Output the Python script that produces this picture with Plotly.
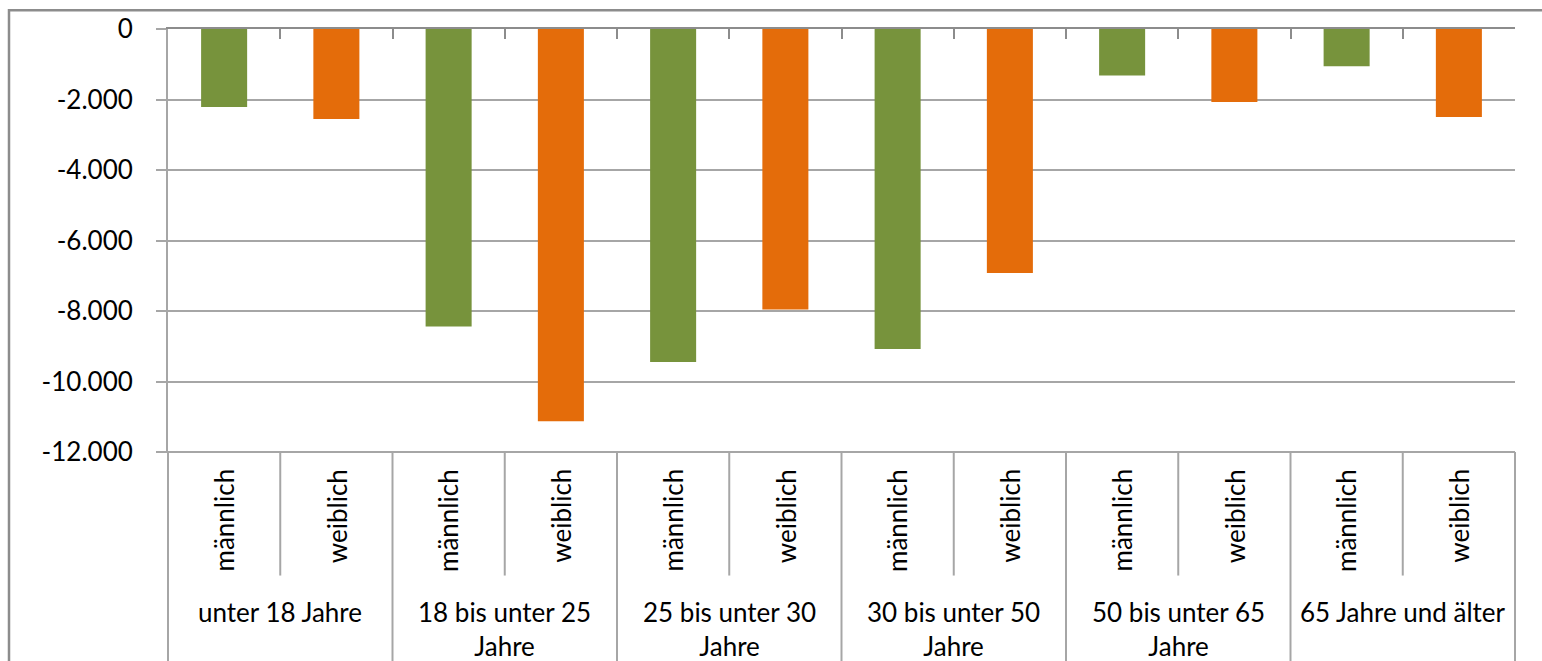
import plotly.graph_objects as go

# ---- data ----
groups = ["unter 18 Jahre", "18 bis unter 25<br>Jahre", "25 bis unter 30<br>Jahre",
          "30 bis unter 50<br>Jahre", "50 bis unter 65<br>Jahre", "65 Jahre und älter"]
sexes = ["männlich", "weiblich"]
maennlich = [-2210, -8440, -9450, -9080, -1320, -1060]
weiblich = [-2550, -11130, -7960, -6920, -2070, -2500]
y_tickvals = [0, -2000, -4000, -6000, -8000, -10000, -12000]
y_ticktext = ["0", "-2.000", "-4.000", "-6.000", "-8.000", "-10.000", "-12.000"]

GREEN = "#77933C"
ORANGE = "#E46C0A"
GRID = "#A6A6A6"
AXIS = "#8C8C8C"
FONT = "Lato"
FS = 26

W, H = 1542, 661
L, R, T, B = 168, 27, 24, 209
pw, ph = W - L - R, H - T - B

def py(p):  # pixel y -> paper y
    return (H - B - p) / ph

def px(p):  # pixel x -> paper x
    return (p - L) / pw

n_groups = len(groups)
n_cats = n_groups * len(sexes)
x_m = [2 * g for g in range(n_groups)]
x_w = [2 * g + 1 for g in range(n_groups)]

fig = go.Figure()
fig.add_trace(go.Bar(x=x_m, y=maennlich, width=0.41, marker=dict(color=GREEN, line=dict(width=0)),
                     name=sexes[0], showlegend=False))
fig.add_trace(go.Bar(x=x_w, y=weiblich, width=0.41, marker=dict(color=ORANGE, line=dict(width=0)),
                     name=sexes[1], showlegend=False))

shapes = []
# outer frame
shapes.append(dict(type="rect", xref="paper", yref="paper", x0=px(9), x1=px(1560), y0=py(5), y1=py(700),
                   line=dict(color=AXIS, width=2.5), layer="above"))
# bottom table line (at -12000)
shapes.append(dict(type="line", xref="paper", yref="paper", x0=px(157), x1=1, y0=0, y1=0,
                   line=dict(color=GRID, width=2)))
# left axis extension
shapes.append(dict(type="line", xref="paper", yref="paper", x0=0, x1=0, y0=0, y1=py(700),
                   line=dict(color=GRID, width=2)))
# separators
for k in range(n_cats + 1):
    xp = k / n_cats
    if k % 2 == 0:
        y1 = py(700)
    else:
        y1 = py(577)
    shapes.append(dict(type="line", xref="paper", yref="paper", x0=xp, x1=xp, y0=0, y1=y1,
                       line=dict(color=GRID, width=2)))

annotations = []
for g in range(n_groups):
    for s, sx in enumerate(sexes):
        annotations.append(dict(x=2 * g + s, xref="x", y=py(467), yref="paper", text=sx,
                                textangle=-90, showarrow=False, xanchor="center", yanchor="top",
                                font=dict(family=FONT, size=FS, color="#000")))
    annotations.append(dict(x=2 * g + 0.5, xref="x", y=py(596), yref="paper", text=groups[g],
                            showarrow=False, xanchor="center", yanchor="top",
                            font=dict(family=FONT, size=FS, color="#000")))

fig.update_layout(
    width=W, height=H,
    margin=dict(l=L, r=R, t=T, b=B, pad=0),
    paper_bgcolor="white", plot_bgcolor="white",
    barmode="overlay",
    font=dict(family=FONT, size=FS, color="#000"),
    shapes=shapes, annotations=annotations,
    xaxis=dict(range=[-0.5, n_cats - 0.5], side="top", showline=True, linecolor=AXIS, linewidth=2,
               ticks="inside", ticklen=10, tickwidth=2, tickcolor=AXIS,
               tickvals=[k - 0.5 for k in range(n_cats + 1)], showticklabels=False,
               showgrid=False, zeroline=False, fixedrange=True),
    yaxis=dict(range=[-12000, 0], tickvals=y_tickvals, ticktext=y_ticktext,
               showline=True, linecolor=GRID, linewidth=2,
               ticks="outside", ticklen=10, tickwidth=2, tickcolor=GRID,
               ticklabelstandoff=18,
               showgrid=True, gridcolor=GRID, gridwidth=2, zeroline=False,
               tickfont=dict(family=FONT, size=FS, color="#000"), fixedrange=True),
)

fig.write_html("out.html")
